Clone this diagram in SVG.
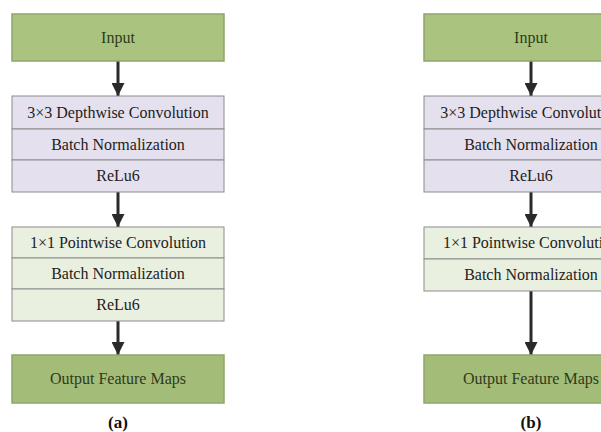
<svg xmlns="http://www.w3.org/2000/svg" width="601" height="432" viewBox="0 0 601 432">
<style>
text{font-family:"Liberation Serif","Times New Roman",serif;font-size:16px;fill:#222;text-anchor:middle}
.io{fill:#aac480;stroke:#8ea66a;stroke-width:1.5}
.out{fill:#a3bd78;stroke:#8ea66a;stroke-width:1.5}
.pu{fill:#e5e0ee;stroke:#8c8c8c;stroke-width:1}
.gr{fill:#eaf0df;stroke:#8c8c8c;stroke-width:1}
.io-t{fill:#2f3a1c}
.ar{stroke:#2a2a2a;stroke-width:3;fill:none}
.lbl{font-size:17px;fill:#111;font-weight:bold}
</style>
<defs>
<marker id="ah" viewBox="0 0 14 13" refX="13" refY="6.5" markerWidth="14" markerHeight="13" markerUnits="userSpaceOnUse" orient="auto">
<path d="M0,0 L13,6.5 L0,13 Z" fill="#2a2a2a"/>
</marker>
</defs>
<rect width="601" height="432" fill="#fff"/>
<g id="connectors">
<line class="ar" x1="118" y1="61" x2="118" y2="96" marker-end="url(#ah)"/>
<line class="ar" x1="118" y1="192" x2="118" y2="227" marker-end="url(#ah)"/>
<line class="ar" x1="118" y1="321" x2="118" y2="355" marker-end="url(#ah)"/>
<line class="ar" x1="531" y1="61" x2="531" y2="96" marker-end="url(#ah)"/>
<line class="ar" x1="531" y1="192" x2="531" y2="227" marker-end="url(#ah)"/>
<line class="ar" x1="531" y1="291" x2="531" y2="355" marker-end="url(#ah)"/>
</g>
<g id="a-input"><rect class="io" x="12" y="14" width="212" height="47"/><text class="io-t" x="118" y="43">Input</text></g>
<g id="a-dw">
<rect class="pu" x="12" y="96" width="212" height="33"/><text x="118" y="118">3×3 Depthwise Convolution</text>
<rect class="pu" x="12" y="129" width="212" height="31"/><text x="118" y="150">Batch Normalization</text>
<rect class="pu" x="12" y="160" width="212" height="32"/><text x="118" y="181">ReLu6</text>
</g>
<g id="a-pw">
<rect class="gr" x="12" y="227" width="212" height="31"/><text x="118" y="248">1×1 Pointwise Convolution</text>
<rect class="gr" x="12" y="258" width="212" height="31"/><text x="118" y="279">Batch Normalization</text>
<rect class="gr" x="12" y="289" width="212" height="32"/><text x="118" y="310">ReLu6</text>
</g>
<g id="a-output"><rect class="out" x="12" y="355" width="212" height="48"/><text class="io-t" x="118" y="384">Output Feature Maps</text></g>
<text class="lbl" x="118" y="428">(a)</text>
<g id="b-input"><rect class="io" x="424" y="14" width="214" height="47"/><text class="io-t" x="531" y="43">Input</text></g>
<g id="b-dw">
<rect class="pu" x="424" y="96" width="214" height="33"/><text x="531" y="118">3×3 Depthwise Convolution</text>
<rect class="pu" x="424" y="129" width="214" height="31"/><text x="531" y="150">Batch Normalization</text>
<rect class="pu" x="424" y="160" width="214" height="32"/><text x="531" y="181">ReLu6</text>
</g>
<g id="b-pw">
<rect class="gr" x="424" y="227" width="214" height="32"/><text x="531" y="248">1×1 Pointwise Convolution</text>
<rect class="gr" x="424" y="259" width="214" height="32"/><text x="531" y="280">Batch Normalization</text>
</g>
<g id="b-output"><rect class="out" x="424" y="355" width="214" height="48"/><text class="io-t" x="531" y="384">Output Feature Maps</text></g>
<text class="lbl" x="531" y="428">(b)</text>
</svg>
